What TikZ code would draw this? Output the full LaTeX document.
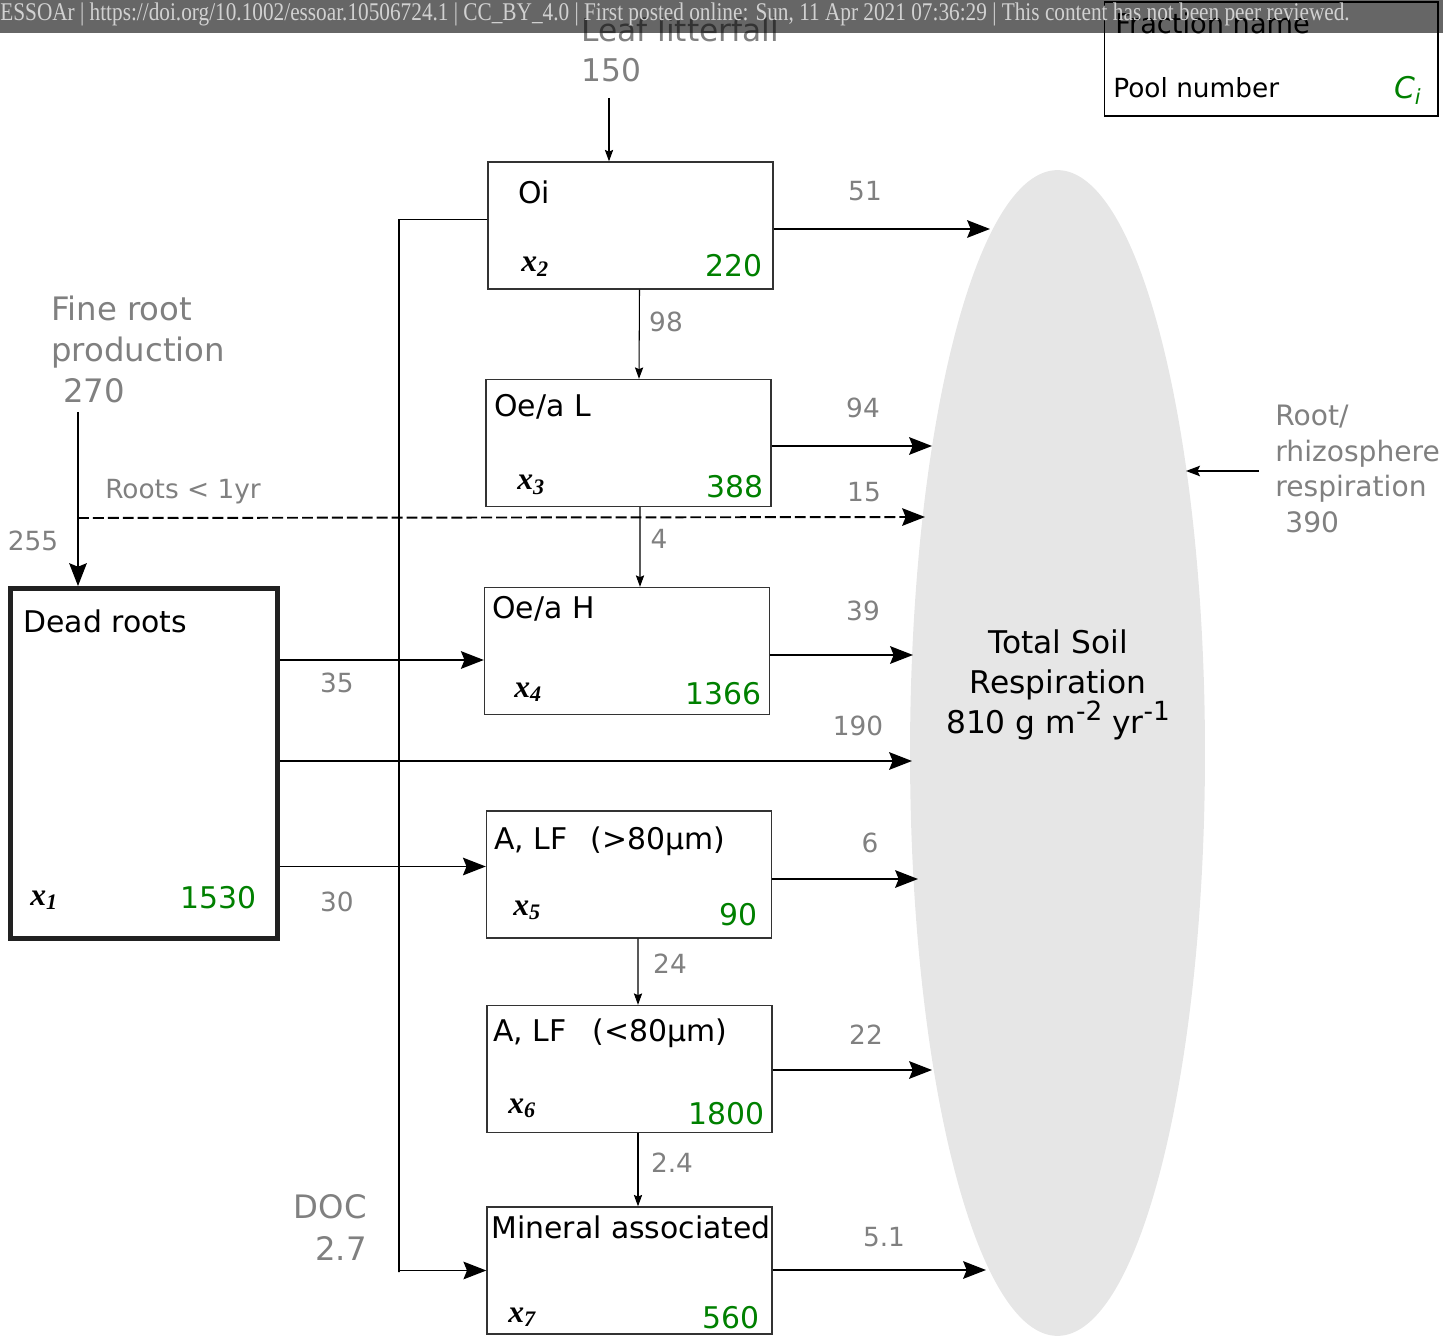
\documentclass[tikz,border=0pt]{standalone}
\usepackage{fontspec}
\setmainfont{DejaVu Sans}
\newfontfamily\xfont{Liberation Serif}
\newfontfamily\bannerfont{Liberation Serif}[FakeStretch=0.835]
\usetikzlibrary{arrows.meta,positioning,calc,shapes.geometric}
\definecolor{fluxgray}{HTML}{808080}
\definecolor{poolgreen}{HTML}{008000}
\definecolor{respfill}{HTML}{E6E6E6}
\definecolor{boxline}{HTML}{333333}
\newcommand{\unitsup}[1]{\raisebox{.42em}{\fontsize{15}{15}\selectfont #1}}
\tikzset{
  pool/.style={draw=boxline, line width=.8pt, minimum width=5.7cm, minimum height=2.54cm, inner sep=0pt},
  deadpool/.style={pool, draw=black!87, line width=2.8pt, minimum width=5.34cm, minimum height=7cm},
  resp/.style={ellipse, fill=respfill, minimum width=5.9cm, minimum height=23.32cm, inner sep=0pt},
  resptext/.style={align=center, inner sep=0pt, font=\fontsize{17.8}{22.7}\selectfont},
  pname/.style={anchor=base west, inner sep=0pt, font=\fontsize{17}{20}\selectfont},
  pidx/.style={anchor=base west, inner sep=0pt, font=\fontsize{18}{20}\selectfont\xfont\bfseries\itshape},
  pval/.style={anchor=base east, inner sep=0pt, text=poolgreen, font=\fontsize{17}{20}\selectfont},
  flux/.style={text=fluxgray, inner sep=0pt, font=\fontsize{15}{18}\selectfont},
  source/.style={text=fluxgray, inner sep=0pt, font=\fontsize{18.4}{23.5}\selectfont},
  bigarr/.style={-{Stealth[length=13pt,width=10pt,inset=2pt]}, line width=1.1pt},
  thinarr/.style={-{Stealth[length=6.5pt,width=4.7pt,inset=1pt]}, line width=.6pt},
  midarr/.style={-{Stealth[length=8pt,width=6pt,inset=1.5pt]}, line width=.6pt}
}

\begin{document}
\begin{tikzpicture}[x=0.02cm,y=-0.02cm]
  \useasboundingbox (0,0) rectangle (1443,1337);

  % total soil respiration
  \node[resp] (tsr) at (1057.5,753) {};
  \node[resptext] (tsrt) at (1058,685) {Total Soil\\Respiration\\810 g m\unitsup{-2} yr\unitsup{-1}};

  % pools
  \node[deadpool] (dr) at (144,763.5) {};
  \node[pname] (drn) at (23,632) {Dead roots};
  \node[pidx] (drx) at (30,905) {x\textsubscript{1}};
  \node[pval] (drv) at (257,908) {1530};

  \node[pool] (oi) at (630.5,225.5) {};
  \node[pname] (oin) at (518,204) {Oi};
  \node[pidx] (oix) at (521,272) {x\textsubscript{2}};
  \node[pval] (oiv) at (763,277) {220};

  \node[pool] (oel) at (628.5,443) {};
  \node[pname] (oeln) at (494,417) {Oe/a L};
  \node[pidx] (oelx) at (517,490) {x\textsubscript{3}};
  \node[pval] (oelv) at (764,498) {388};

  \node[pool] (oeh) at (627,651) {};
  \node[pname] (oehn) at (492,619) {Oe/a H};
  \node[pidx] (oehx) at (514,697) {x\textsubscript{4}};
  \node[pval] (oehv) at (762,704) {1366};

  \node[pool] (alfc) at (629,874.5) {};
  \node[pname] (alfcn) at (494,849) {A, LF\hspace{13pt}(>80µm)};
  \node[pidx] (alfcx) at (513,915) {x\textsubscript{5}};
  \node[pval] (alfcv) at (758,925) {90};

  \node[pool] (alff) at (629.5,1069) {};
  \node[pname] (alffn) at (493,1041) {A, LF\hspace{15pt}(<80µm)};
  \node[pidx] (alffx) at (508,1113) {x\textsubscript{6}};
  \node[pval] (alffv) at (765,1124) {1800};

  \node[pool] (maom) at (629.5,1270.5) {};
  \node[pname] (maomn) at (491,1238) {Mineral associated};
  \node[pidx] (maomx) at (508,1322) {x\textsubscript{7}};
  \node[pval] (maomv) at (760,1328) {560};

  % legend
  \node[draw=black, line width=.6pt, minimum width=6.68cm, minimum height=2.28cm, inner sep=0pt] (legend) at (1271,59) {};
  \node[pname, font=\fontsize{15.5}{18}\selectfont] (legn) at (1115,34) {Fraction name};
  \node[pname, font=\fontsize{15}{18}\selectfont] (legp) at (1113,98) {Pool number};
  \node[pval, font=\fontsize{17}{20}\selectfont\itshape] (legc) at (1422,99) {C\textsubscript{i}};

  % inputs
  \node[source, align=left, anchor=west, font=\fontsize{17.8}{22.7}\selectfont] (leaf) at (581,50) {Leaf litterfall\\150};
  \node[source, align=left, anchor=west] (fine) at (51,349.5) {Fine root\\production\\\hspace{6.8pt}270};
  \node[source, align=left, anchor=west, font=\fontsize{16}{20.4}\selectfont] (rhizo) at (1275,469) {Root/\\rhizosphere\\respiration\\\hspace{5.7pt}390};
  \node[source, align=right, anchor=east] (doc) at (367,1227.5) {DOC\\2.7};

  \coordinate (lf) at (609,98);
  \coordinate (frp) at (78,412);
  \coordinate (rbr) at (78,518);
  \coordinate (rr) at (1259,471);
  \coordinate (rre) at (1186,471);
  \coordinate (docbend) at (399,1272);
  \coordinate (to35) at ($(oeh.west)+(0,9)$);
  \coordinate (to30) at ($(alfc.west)+(0,-8)$);
  % arrow ends on the ellipse
  \coordinate (in51) at (990,229);
  \coordinate (in94) at (932,446);
  \coordinate (in15) at (925,517);
  \coordinate (in39) at (913,655);
  \coordinate (in190) at (912,761);
  \coordinate (in6) at (918,879);
  \coordinate (in22) at (932,1070);
  \coordinate (in51b) at (986,1270);

  % fluxes
  \draw[thinarr] (lf) -- (lf |- oi.north);
  \draw[bigarr] (frp) -- (frp |- dr.north);
  \draw[bigarr, dashed, dash pattern=on 6.2pt off 2.3pt] (rbr) -- (in15);
  \draw[midarr] (rr) -- (rre);
  \draw[bigarr] ($(oi.west)+(0,-6)$) -| (docbend) |- (maom.west);

  \draw[thinarr] ([xshift=.18cm]oi.south) -- ([xshift=.21cm]oel.north);
  \draw[thinarr] ([xshift=.23cm]oel.south) -- ([xshift=.26cm]oeh.north);
  \draw[thinarr] ([xshift=.18cm]alfc.south) -- ([xshift=.17cm]alff.north);
  \draw[thinarr] ([xshift=.17cm]alff.south) -- ([xshift=.17cm]maom.north);

  \draw[bigarr] (dr.east |- to35) -- (to35);
  \draw[bigarr] (dr.east |- in190) -- (in190);
  \draw[bigarr] (dr.east |- to30) -- (to30);

  \draw[bigarr] (oi.east |- in51) -- (in51);
  \draw[bigarr] (oel.east |- in94) -- (in94);
  \draw[bigarr] (oeh.east |- in39) -- (in39);
  \draw[bigarr] (alfc.east |- in6) -- (in6);
  \draw[bigarr] (alff.east |- in22) -- (in22);
  \draw[bigarr] (maom.east |- in51b) -- (in51b);

  % flux values
  \node[flux] (f51) at (865,191) {51};
  \node[flux] (f98) at (666,322) {98};
  \node[flux] (f94) at (863,408) {94};
  \node[flux] (f15) at (864,492) {15};
  \node[flux] (f4) at (659,539) {4};
  \node[flux] (f39) at (863,611) {39};
  \node[flux] (f35) at (337,683) {35};
  \node[flux] (f190) at (858,726) {190};
  \node[flux] (f30) at (337,902) {30};
  \node[flux] (f6) at (870,843) {6};
  \node[flux] (f24) at (670,964) {24};
  \node[flux] (f22) at (866,1035) {22};
  \node[flux] (f24b) at (672,1163) {2.4};
  \node[flux] (f51b) at (884,1237) {5.1};
  \node[flux] (f255) at (33,541) {255};
  \node[flux] (froots) at (183,492) {Roots < 1yr};

  % preprint banner
  \fill[black, fill opacity=.6] (0,0) rectangle (1443,33);
  \node[anchor=base west, inner sep=0pt, text=white!82!black, font=\fontsize{14.5}{16}\bannerfont] (banner) at (0,21) {ESSOAr | https://doi.org/10.1002/essoar.10506724.1 | CC\_BY\_4.0 | First posted online: Sun, 11 Apr 2021 07:36:29 | This content has not been peer reviewed.};
\end{tikzpicture}
\end{document}
